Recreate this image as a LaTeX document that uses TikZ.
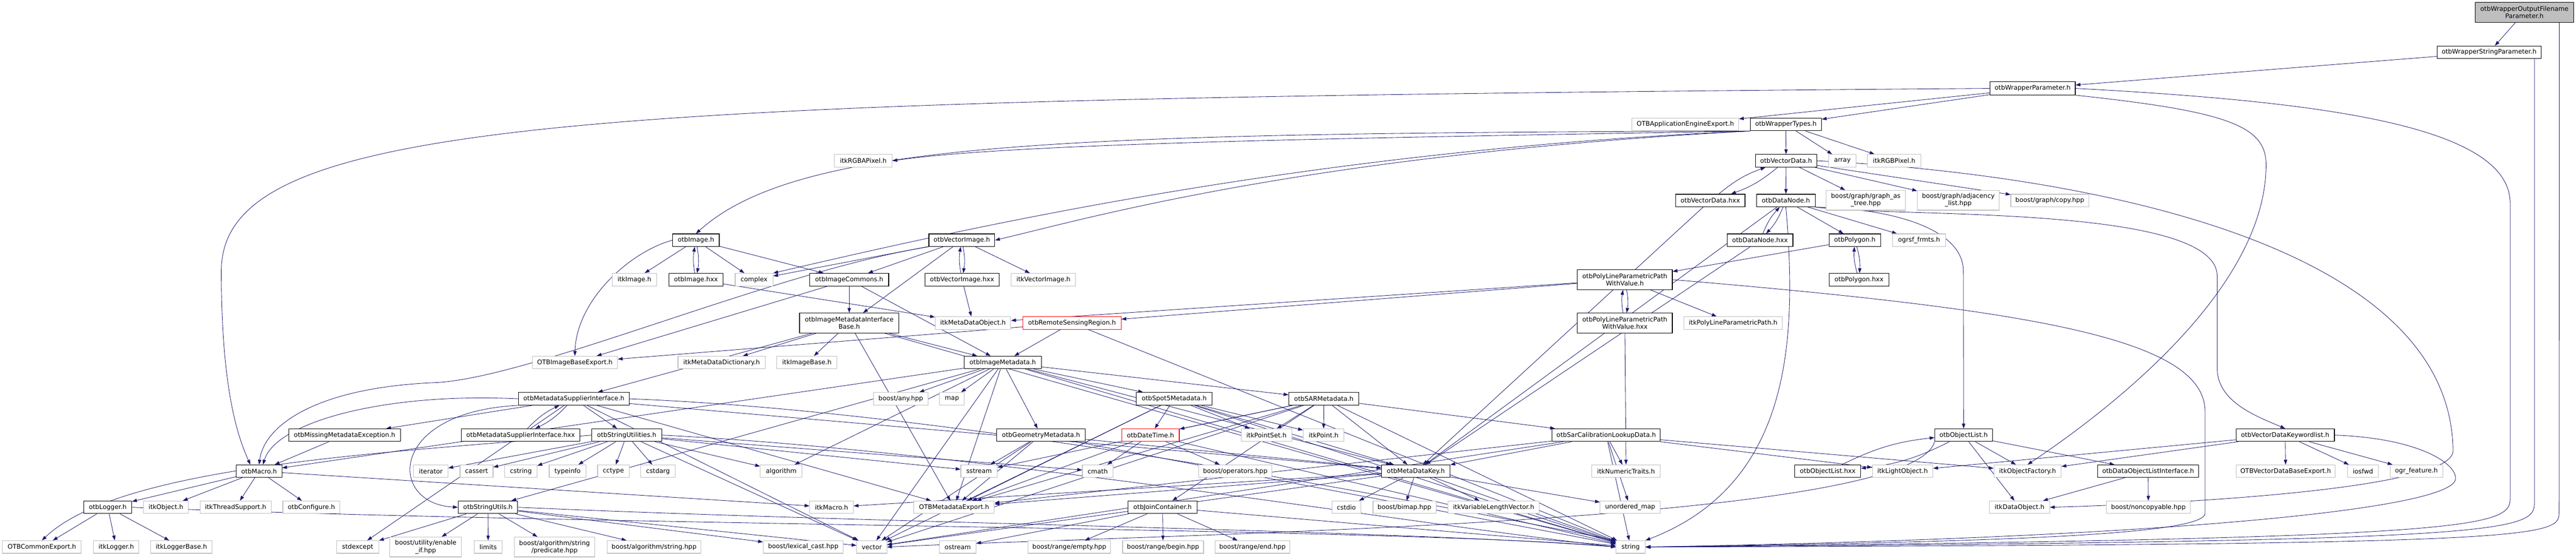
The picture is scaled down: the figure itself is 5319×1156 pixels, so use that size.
\documentclass[tikz,border=0pt]{standalone}
\usepackage{fontspec}
\setmainfont{DejaVu Sans}
\usetikzlibrary{arrows.meta}
\definecolor{edgecol}{RGB}{25,25,112}
\definecolor{extgray}{RGB}{191,191,191}
\definecolor{redbd}{RGB}{255,0,0}
\pgfdeclarelayer{bg}
\pgfsetlayers{bg,main}
\newcommand\mynode[7]{\node[#1,minimum width=#5pt,minimum height=#6pt] (#2) at (#3,#4) {#7};}
\tikzset{
  base/.style={rectangle, fill=white, font=\fontsize{13.1}{15}\selectfont, inner xsep=3pt, inner ysep=0pt, align=center, line width=1.2pt},
  doc/.style={base, draw=black},
  ext/.style={base, draw=extgray},
  redn/.style={base, draw=redbd},
  rootn/.style={base, draw=black, fill=extgray},
  edg/.style={draw=edgecol, line width=0.9pt, -{Triangle[length=10pt,width=7pt]}},
}
\begin{document}
\begin{tikzpicture}[x=1pt,y=-1pt]
\useasboundingbox (0,0) rectangle (5319,1156);
% rows
\mynode{rootn}{root}{5212.5}{25.5}{203}{41}{otbWrapperOutputFilename\\Parameter.h}
\mynode{doc}{strp}{5139.5}{108}{215}{26}{otbWrapperStringParameter.h}
\mynode{doc}{par}{4197}{182.5}{176}{27}{otbWrapperParameter.h}
\mynode{ext}{appexp}{3480}{257}{220}{26}{OTBApplicationEngineExport.h}
\mynode{doc}{types}{3687.5}{257}{147}{26}{otbWrapperTypes.h}
\mynode{doc}{vdata}{3688}{332}{126}{26}{otbVectorData.h}
\mynode{ext}{array}{3804}{332}{56}{26}{array}
\mynode{ext}{rgbpix}{3911}{332}{110}{26}{itkRGBPixel.h}
\mynode{ext}{rgbapix}{1782.5}{332}{119}{26}{itkRGBAPixel.h}
\mynode{doc}{vdatahxx}{3531.5}{414}{143}{26}{otbVectorData.hxx}
\mynode{doc}{dnode}{3687.5}{414}{121}{26}{otbDataNode.h}
\mynode{ext}{gat}{3852.5}{413.5}{163}{41}{boost/graph/graph\_as\\\_tree.hpp}
\mynode{ext}{adj}{4043.5}{413.5}{169}{41}{boost/graph/adjacency\\\_list.hpp}
\mynode{ext}{copy}{4232.5}{414}{161}{26}{boost/graph/copy.hpp}
\mynode{doc}{image}{1437}{496}{96}{26}{otbImage.h}
\mynode{doc}{vimage}{1986}{496}{136}{26}{otbVectorImage.h}
\mynode{doc}{dnodehxx}{3634}{496}{136}{26}{otbDataNode.hxx}
\mynode{doc}{polygon}{3830}{496}{106}{26}{otbPolygon.h}
\mynode{ext}{ogrsf}{3962.5}{496}{109}{26}{ogrsf\_frmts.h}
\mynode{ext}{itkimage}{1310}{577.5}{92}{26}{itkImage.h}
\mynode{doc}{imagehxx}{1437}{577.5}{112}{26}{otbImage.hxx}
\mynode{ext}{complex}{1557}{577.5}{78}{26}{complex}
\mynode{doc}{imcommons}{1753.5}{577.5}{163}{26}{otbImageCommons.h}
\mynode{doc}{vimagehxx}{1986.5}{577.5}{153}{26}{otbVectorImage.hxx}
\mynode{ext}{itkvimage}{2154.5}{577.5}{133}{26}{itkVectorImage.h}
\mynode{doc}{plpwv}{3355}{577.5}{196}{41}{otbPolyLineParametricPath\\WithValue.h}
\mynode{doc}{polyhxx}{3838.5}{577.5}{123}{26}{otbPolygon.hxx}
\mynode{doc}{imib}{1753.5}{667}{205}{41}{otbImageMetadataInterface\\Base.h}
\mynode{ext}{mdo}{2009}{667}{156}{26}{itkMetaDataObject.h}
\mynode{redn}{rsr}{2213.5}{667}{203}{26}{otbRemoteSensingRegion.h}
\mynode{doc}{plpwvhxx}{3355}{667}{196}{41}{otbPolyLineParametricPath\\WithValue.hxx}
\mynode{ext}{itkplp}{3578.5}{667}{203}{26}{itkPolyLineParametricPath.h}
\mynode{ext}{ibexp}{1187}{748.5}{176}{26}{OTBImageBaseExport.h}
\mynode{ext}{mdd}{1490}{748.5}{180}{26}{itkMetaDataDictionary.h}
\mynode{ext}{imbase}{1666}{748.5}{124}{26}{itkImageBase.h}
\mynode{doc}{immd}{2070.5}{748.5}{159}{26}{otbImageMetadata.h}
\mynode{doc}{msi}{1185}{823.5}{228}{26}{otbMetadataSupplierInterface.h}
\mynode{ext}{anyhpp}{1860}{823.5}{112}{26}{boost/any.hpp}
\mynode{ext}{map}{1965.5}{823.5}{51}{26}{map}
\mynode{doc}{spot5}{2424.5}{823.5}{157}{26}{otbSpot5Metadata.h}
\mynode{doc}{sar}{2733.5}{823.5}{145}{26}{otbSARMetadata.h}
\mynode{doc}{mme}{711.5}{898.5}{231}{26}{otbMissingMetadataException.h}
\mynode{doc}{msihxx}{1075}{898.5}{244}{26}{otbMetadataSupplierInterface.hxx}
\mynode{doc}{strutilities}{1294}{898.5}{144}{26}{otbStringUtilities.h}
\mynode{doc}{geom}{2149.5}{898.5}{183}{26}{otbGeometryMetadata.h}
\mynode{redn}{datetime}{2375.5}{898.5}{119}{26}{otbDateTime.h}
\mynode{ext}{pointset}{2615}{898.5}{104}{26}{itkPointSet.h}
\mynode{ext}{point}{2733}{898.5}{84}{26}{itkPoint.h}
\mynode{doc}{sarcal}{3316.5}{898.5}{223}{26}{otbSarCalibrationLookupData.h}
\mynode{doc}{objlist}{4054.5}{898.5}{119}{26}{otbObjectList.h}
\mynode{doc}{vdkw}{4718.5}{898.5}{203}{26}{otbVectorDataKeywordlist.h}
\mynode{doc}{macro}{535}{973}{94}{26}{otbMacro.h}
\mynode{ext}{iterator}{889.5}{973}{71}{26}{iterator}
\mynode{ext}{cassert}{984}{973}{68}{26}{cassert}
\mynode{ext}{cstring}{1075.5}{973}{67}{26}{cstring}
\mynode{ext}{typeinfo}{1172}{973}{76}{26}{typeinfo}
\mynode{ext}{cctype}{1266.5}{973}{65}{26}{cctype}
\mynode{ext}{cstdarg}{1358.5}{973}{71}{26}{cstdarg}
\mynode{ext}{algorithm}{1613}{973}{86}{26}{algorithm}
\mynode{ext}{sstream}{2021.5}{973}{75}{26}{sstream}
\mynode{ext}{cmath}{2266.5}{973}{63}{26}{cmath}
\mynode{ext}{boostops}{2550.5}{973}{151}{26}{boost/operators.hpp}
\mynode{doc}{mdkey}{2923.5}{973}{141}{26}{otbMetaDataKey.h}
\mynode{ext}{numtraits}{3357.5}{973}{141}{26}{itkNumericTraits.h}
\mynode{doc}{objlisthxx}{3774}{973}{136}{26}{otbObjectList.hxx}
\mynode{ext}{lightobj}{3928.5}{973}{125}{26}{itkLightObject.h}
\mynode{ext}{objfactory}{4186.5}{973}{139}{26}{itkObjectFactory.h}
\mynode{doc}{doli}{4435.5}{973}{209}{26}{otbDataObjectListInterface.h}
\mynode{ext}{vdbexp}{4719.5}{973}{205}{26}{OTBVectorDataBaseExport.h}
\mynode{ext}{iosfwd}{4879}{973}{64}{26}{iosfwd}
\mynode{ext}{ogrfeat}{4989.5}{973}{109}{26}{ogr\_feature.h}
\mynode{doc}{logger}{222.5}{1047.5}{99}{26}{otbLogger.h}
\mynode{ext}{itkobject}{342.5}{1047.5}{93}{26}{itkObject.h}
\mynode{ext}{threadsup}{486.5}{1047.5}{147}{26}{itkThreadSupport.h}
\mynode{ext}{configure}{643}{1047.5}{118}{26}{otbConfigure.h}
\mynode{doc}{strutils}{1007.5}{1047.5}{123}{26}{otbStringUtils.h}
\mynode{ext}{itkmacro}{1717}{1047.5}{90}{26}{itkMacro.h}
\mynode{ext}{mdexp}{1970}{1047.5}{166}{26}{OTBMetadataExport.h}
\mynode{doc}{joincont}{2400.5}{1047.5}{143}{26}{otbJoinContainer.h}
\mynode{ext}{cstdio}{2780}{1047.5}{60}{26}{cstdio}
\mynode{ext}{bimap}{2900}{1047.5}{130}{26}{boost/bimap.hpp}
\mynode{ext}{vlv}{3084}{1047.5}{188}{26}{itkVariableLengthVector.h}
\mynode{ext}{umap}{3366}{1047.5}{124}{26}{unordered\_map}
\mynode{ext}{dataobj}{4170}{1047.5}{124}{26}{itkDataObject.h}
\mynode{ext}{noncopy}{4436}{1047.5}{174}{26}{boost/noncopyable.hpp}
\mynode{ext}{commonexp}{86.5}{1129.5}{163}{26}{OTBCommonExport.h}
\mynode{ext}{itklogger}{240}{1129.5}{94}{26}{itkLogger.h}
\mynode{ext}{loggerbase}{374.5}{1129.5}{127}{26}{itkLoggerBase.h}
\mynode{ext}{stdexcept}{738.5}{1129.5}{87}{26}{stdexcept}
\mynode{ext}{enableif}{879}{1129.5}{148}{41}{boost/utility/enable\\\_if.hpp}
\mynode{ext}{limits}{1008}{1129.5}{58}{26}{limits}
\mynode{ext}{predicate}{1145}{1129.5}{166}{41}{boost/algorithm/string\\/predicate.hpp}
\mynode{ext}{algstring}{1350.5}{1129.5}{193}{26}{boost/algorithm/string.hpp}
\mynode{ext}{lexcast}{1658.5}{1129.5}{165}{26}{boost/lexical\_cast.hpp}
\mynode{ext}{vector}{1800}{1129.5}{62}{26}{vector}
\mynode{ext}{ostream}{1977.5}{1129.5}{75}{26}{ostream}
\mynode{ext}{rempty}{2208}{1129.5}{170}{26}{boost/range/empty.hpp}
\mynode{ext}{rbegin}{2401.5}{1129.5}{167}{26}{boost/range/begin.hpp}
\mynode{ext}{rend}{2586}{1129.5}{154}{26}{boost/range/end.hpp}
\mynode{ext}{string}{3367}{1129.5}{60}{26}{string}

\begin{pgfonlayer}{bg}
\fill[white] (0,0) rectangle (5319,1156);
% straight edges
\foreach \a/\b in {root/strp, strp/par, par/appexp, par/types,
  types/vdata, types/array, types/rgbpix,
  vdata/dnode, vdata/gat, vdata/adj, vdata/copy, vdatahxx/mdkey,
  dnode/polygon, dnode/ogrsf, dnode/mdkey, dnodehxx/mdkey,
  polygon/plpwv, plpwv/itkplp, plpwv/mdo, plpwv/rsr, plpwvhxx/numtraits,
  image/itkimage, image/complex, image/imcommons, imagehxx/mdo,
  vimage/complex, vimage/imcommons, vimage/itkvimage, vimage/imib, vimagehxx/mdo,
  imcommons/imib, imcommons/ibexp, imcommons/immd,
  imib/msi, imib/mdd, imib/imbase, imib/mdexp, imib/immd, imib/string,
  rsr/ibexp, rsr/immd, rsr/string,
  immd/anyhpp, immd/map, immd/geom, immd/spot5, immd/sar, immd/mdexp, immd/mdkey,
  immd/vector, immd/algorithm, immd/strutils, immd/macro, immd/string,
  msi/strutilities, msi/mme, msi/stdexcept, msi/vector, msi/mdexp, msi/mdkey,
  mme/macro,
  strutilities/iterator, strutilities/cassert, strutilities/cstring, strutilities/typeinfo,
  strutilities/cctype, strutilities/cstdarg, strutilities/algorithm, strutilities/vector,
  strutilities/cmath, strutilities/sstream,
  strutils/stdexcept, strutils/enableif, strutils/limits, strutils/predicate,
  strutils/algstring, strutils/lexcast, strutils/vector,
  macro/logger, macro/itkobject, macro/threadsup, macro/configure, macro/itkmacro,
  logger/commonexp, logger/itklogger, logger/loggerbase,
  geom/sstream, geom/mdexp, geom/mdkey, geom/vector, geom/string,
  spot5/datetime, spot5/pointset, spot5/point, spot5/mdexp, spot5/mdkey, spot5/vector, spot5/string,
  sar/datetime, sar/pointset, sar/point, sar/mdexp, sar/mdkey, sar/sarcal, sar/sstream,
  sar/joincont, sar/vector, sar/string,
  datetime/cmath, datetime/boostops, datetime/mdexp, datetime/string,
  joincont/rempty, joincont/rbegin, joincont/rend, joincont/ostream, joincont/string,
  sarcal/mdkey, sarcal/numtraits, sarcal/umap, sarcal/mdexp, sarcal/lightobj,
  sarcal/objfactory, sarcal/vector, sarcal/string,
  mdkey/bimap, mdkey/vlv, mdkey/umap, mdkey/mdexp, mdkey/cstdio, mdkey/itkmacro,
  mdkey/vector, mdkey/string,
  objlist/objfactory, objlist/dataobj, objlist/doli,
  doli/dataobj, doli/noncopy,
  vdkw/vdbexp, vdkw/iosfwd, vdkw/ogrfeat, vdkw/lightobj, vdkw/objfactory}
  \draw[edg] (\a) -- (\b);
% two-way pairs
\foreach \a/\b in {vdata/vdatahxx, dnode/dnodehxx, polygon/polyhxx, plpwv/plpwvhxx,
  image/imagehxx, vimage/vimagehxx, msi/msihxx, objlist/objlisthxx}
  {\draw[edg] (\a) to[bend left=10] (\b);
   \draw[edg] (\b) to[bend left=10] (\a);}
% curved long edges
\draw[edg] ([xshift=72pt]root.south) -- (5284,1060) .. controls (5284,1110) and (5230,1125) .. (string.east);
\draw[edg] ([xshift=93.5pt]strp.south) -- (5233,1040) .. controls (5233,1100) and (5150,1118) .. (string.east);
\draw[edg] (par.east) .. controls (4800,210) and (5183,260) .. (5183,420) -- (5183,1030) .. controls (5183,1090) and (5100,1112) .. (string.east);
\draw[edg] (par.west) .. controls (1200,205) and (457,240) .. (457,560) .. controls (457,800) and (490,900) .. ([xshift=-18pt]macro.north);
\draw[edg] (par.south east) .. controls (4600,230) and (4679,260) .. (4679,340) .. controls (4679,600) and (4350,850) .. (objfactory.north);
\draw[edg] (types.south west) .. controls (2200,275) and (1650,290) .. (image.north);
\draw[edg] (types.south west) .. controls (2800,285) and (2100,295) .. (rgbapix.east);
\draw[edg] (types.south west) .. controls (2700,310) and (2000,470) .. (complex.north east);
\draw[edg] (types.south west) .. controls (2700,320) and (2250,450) .. (vimage.east);
\draw[edg] (vdata.east) .. controls (4300,360) and (5060,500) .. (5065,930) .. controls (5070,1010) and (4500,1040) .. (dataobj.east);
\draw[edg] (dnode.south east) .. controls (3900,430) and (4054,470) .. (4054,560) -- (objlist.north);
\draw[edg] (dnode.south east) .. controls (3900,450) and (4578,420) .. (4578,570) -- (4578,760) .. controls (4578,830) and (4660,860) .. (vdkw.north);
\draw[edg] (dnode.south) .. controls (3711,700) and (3700,1000) .. (string.north east);
\draw[edg] (plpwv.east) .. controls (4200,640) and (4553,700) .. (4553,850) -- (4553,1060) .. controls (4553,1110) and (4000,1120) .. (string.east);
\draw[edg] (vdkw.east) .. controls (5000,905) and (5075,960) .. (5070,990) .. controls (5060,1050) and (4500,1110) .. (string.east);
\draw[edg] (vimage.south west) .. controls (1600,560) and (1100,780) .. (900,790) .. controls (650,800) and (545,880) .. (macro.north);
\draw[edg] (msi.west) .. controls (800,810) and (570,870) .. ([xshift=8pt]macro.north);
\draw[edg] (logger.east) .. controls (1200,1085) and (2900,1090) .. (string.west);
\draw[edg] (strutils.east) .. controls (1800,1080) and (2900,1095) .. (string.west);
\draw[edg] (strutilities.east) .. controls (2000,930) and (2900,1080) .. (string.west);
\draw[edg] (msi.east) .. controls (2000,850) and (3000,1050) .. (string.north west);
\draw[edg] (strutilities.west) .. controls (800,935) and (250,960) .. (commonexp.north);
\draw[edg] (msi.south west) .. controls (800,850) and (800,1040) .. (strutils.west);
\draw[edg] (image.west) .. controls (1300,520) and (1190,620) .. (ibexp.north);
\draw[edg] (objlist.south west) .. controls (3950,1080) and (2500,1100) .. (vector.east);
\end{pgfonlayer}
\end{tikzpicture}
\end{document}
